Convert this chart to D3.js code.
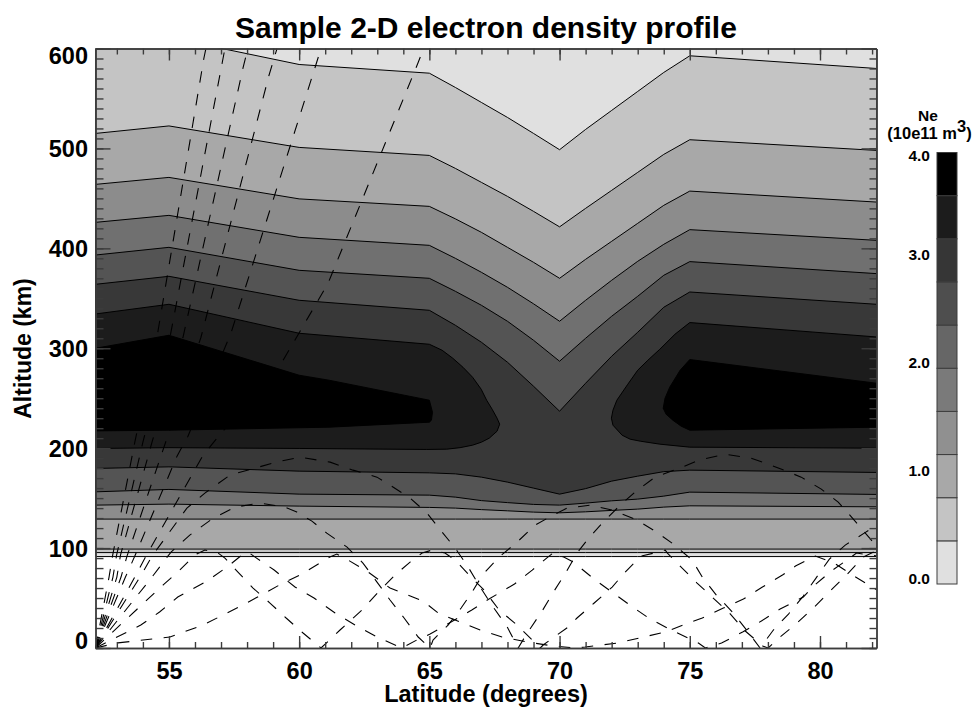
<!DOCTYPE html>
<html>
<head>
<meta charset="utf-8">
<script src="https://cdn.jsdelivr.net/npm/d3@7"></script>
<style>
    html, body { margin: 0; padding: 0; background: white; }
    text { font-family: "Liberation Sans", Arial, sans-serif; font-weight: bold; fill: black; }
</style>
</head>
<body>
<div id="wrapper"></div>
<script>
// contour altitudes (km), all at these latitudes
const contourLats = [52.18, 55, 60, 65, 66, 67, 68, 69, 70, 71, 72, 73, 74, 75, 82.17]
const upper1 = [603, 611, 584, 575.3, 561, 546, 531, 515, 498.7, 519, 538, 557, 576, 592.7, 580]
const upper2 = [515, 522.5, 501, 493, 480, 466, 452, 437, 421.5, 440, 458, 476, 494, 508.7, 498]
const upper3 = [464, 471, 449.5, 442, 429.5, 416, 401, 386, 370, 389, 407, 425, 443, 457.3, 446.3]
const upper4 = [426, 433, 411, 403, 390, 376, 361, 344.5, 327, 348, 368, 387, 404, 418.7, 408]
const upper5 = [393.3, 401, 378, 370, 357, 343, 327, 308, 287, 310, 332, 352, 373, 386.7, 374.7]
const upper6 = [364, 372, 348, 338, 323, 306, 286, 262, 237, 265, 292, 316, 341, 356.3, 344]
const lower6 = [179.7, 181.3, 177, 175.3, 174.3, 171, 166, 160, 154, 159.5, 167, 172, 176.5, 178, 175.7]
const lower5 = [156.3, 158.7, 154, 153, 151, 147.5, 145.5, 143.7, 143, 145, 147.3, 149, 152, 156, 153.7]
const lower4 = [143, 144, 142, 140.7, 140, 138.5, 137.3, 136, 135.3, 136.3, 137.7, 139, 141, 142.3, 141.3]
const lower3 = [129, 129, 129, 129, 129, 129, 129, 129, 129, 129, 129, 129, 129, 129, 129]
const lower2 = [99, 99, 99, 99, 99, 99, 99, 99, 99, 99, 99, 99, 99, 99, 99]
const lower1 = [95.5, 95.5, 95.5, 95.5, 95.5, 95.5, 95.5, 95.5, 95.5, 95.5, 95.5, 95.5, 95.5, 95.5, 95.5]
const lower0 = [91.5, 91.5, 91.5, 91.5, 91.5, 91.5, 91.5, 91.5, 91.5, 91.5, 91.5, 91.5, 91.5, 91.5, 91.5]
const ceiling = [620, 620, 620, 620, 620, 620, 620, 620, 620, 620, 620, 620, 620, 620, 620]

// closed loops around the two density maxima, [lat, alt]
const loop7Left = [[52.18, 334.3], [55, 344], [60, 315], [65, 304], [65.49, 298], [65.9, 290], [66.29, 281], [66.66, 271], [66.99, 259], [67.2, 248], [67.41, 239], [67.6, 230], [67.7, 224], [67.6, 217], [67.3, 210], [67, 206], [66.66, 203], [66.18, 200.5], [65.67, 199], [64.9, 198.7], [60, 199.7], [55, 200.5], [52.18, 199.7]]
const loop7Right = [[82.17, 311.3], [75, 325.7], [74.43, 314], [73.85, 299], [73.39, 288], [73, 278], [72.62, 264], [72.2, 248], [72.05, 238], [71.99, 230], [72.05, 223], [72.4, 213], [72.71, 209], [73.1, 207], [73.85, 204], [75, 201], [82.17, 200]]
const loop8Left = [[52.18, 300], [55, 313], [60, 273], [61.15, 268], [65, 248], [65.12, 236], [65.08, 228], [65, 226], [61.15, 221], [55, 218], [52.18, 217.3]]
const loop8Right = [[75, 288.7], [82.17, 265], [82.17, 221], [75, 218], [74.67, 222], [74.35, 228], [74.09, 234], [73.98, 240], [74.05, 250], [74.23, 261], [74.63, 278]]

// ray paths, [lat, alt]
const rayA = [[52.18, 0], [52.7, 71], [52.84, 93], [53.69, 206], [54.54, 311], [56.34, 590], [56.42, 600]]
const rayB = [[52.18, 0], [52.85, 71], [52.99, 93], [54, 206], [55.04, 311], [57.04, 585], [57.15, 600]]
const rayC = [[52.18, 0], [53, 71], [53.14, 93], [54.35, 206], [55.54, 311], [57.84, 580], [58.03, 600]]
const rayD = [[52.18, 0], [53.16, 71], [53.39, 92], [54.77, 198], [56.23, 311], [58.84, 573], [59.15, 600]]
const rayE = [[52.18, 0], [53.33, 71], [53.69, 92], [55.31, 192], [55.73, 212], [57.38, 315], [60.61, 581], [60.84, 600]]
const rayF = [[52.18, 0], [53.69, 71], [54.12, 92], [56.31, 193], [56.88, 211], [59.34, 286], [61.11, 365], [64.57, 586], [64.78, 600]]
const rayH = [[52.18, 0], [53.89, 71], [54.35, 92], [55.69, 140], [56.38, 155], [57.34, 173], [58.3, 180], [59.11, 186], [60.03, 191], [61.19, 186], [62.07, 178], [62.99, 171], [63.49, 163], [64.26, 150], [64.91, 135], [65.49, 116], [65.99, 100], [66.49, 81], [66.95, 61], [67.45, 41], [67.99, 21], [68.41, 0],
    [68.76, 15], [69.33, 37], [69.79, 57], [70.25, 76], [70.67, 95], [71.09, 109], [71.67, 126], [72.33, 143], [72.94, 157], [73.67, 171], [74.51, 179], [75.36, 188], [76.36, 194], [77.36, 190], [78.32, 181], [79.28, 171], [80.05, 159], [80.7, 146], [81.28, 129], [81.94, 109], [82.2, 101]]
const rayG = [[52.18, 0], [54.35, 71], [54.96, 92], [55.08, 96], [55.8, 113], [56.65, 129], [57.54, 141], [58.5, 145], [59.45, 141], [59.91, 136], [60.49, 127], [61.06, 115], [61.84, 101], [62.45, 85], [62.99, 66], [63.49, 48], [64.03, 30], [64.57, 11], [65.03, 0],
    [65.14, 8], [65.72, 23], [66.22, 40], [66.64, 56], [67.06, 74], [67.72, 92], [68.37, 106], [69.06, 123], [69.75, 133], [70.29, 140], [71.17, 143], [72.02, 138], [72.9, 129], [73.67, 117], [74.32, 105], [75.09, 88], [75.48, 71], [76.02, 53], [76.67, 35], [77.24, 16], [77.7, 0],
    [78.21, 18], [78.79, 34], [79.36, 52], [79.82, 69], [80.36, 89], [80.97, 103], [81.7, 115], [82.2, 123]]
const rayI = [[52.18, 0], [54.77, 63], [55.34, 76], [55.8, 88], [56.07, 94], [56.38, 98], [56.84, 96], [57.15, 90], [57.65, 76], [58.23, 60], [58.88, 45], [59.5, 30], [60.15, 15], [60.84, 0],
    [61.57, 18], [62.41, 38], [63.11, 58], [63.72, 74], [64.26, 86], [64.72, 95], [65.1, 98], [65.6, 95], [65.99, 88], [66.64, 70], [67.1, 58], [67.68, 38], [68.37, 23], [68.95, 8], [69.26, 0],
    [69.37, 3], [70.33, 21], [70.67, 30], [71.33, 45], [72.02, 61], [72.52, 76], [73.13, 92], [73.79, 96], [74.06, 98], [74.14, 95], [74.63, 82], [75.28, 65], [75.9, 50], [76.52, 35], [77.13, 17], [77.8, 2], [78.01, 0],
    [78.47, 11], [79.12, 25], [79.78, 41], [80.43, 58], [81.05, 74], [81.66, 91], [82.2, 98]]
const rayJ = [[52.18, 0], [53.92, 23], [54.64, 36], [55.34, 51], [56.46, 67], [57.23, 81], [57.8, 93], [58.04, 96], [58.31, 91], [59.04, 78], [59.84, 61], [60.57, 50], [61.38, 35], [62.15, 23], [63, 11], [63.76, 2], [63.95, 0],
    [64.52, 8], [65.03, 14], [66.63, 38], [67.29, 49], [68.27, 64], [68.95, 78], [69.55, 91], [69.75, 95], [70.16, 91], [70.53, 86], [71.37, 68], [72.06, 55], [72.75, 42], [73.48, 29], [74.29, 18], [75.33, 5], [75.6, 0],
    [76.22, 5], [77.03, 16], [77.75, 27], [78.47, 39], [79.36, 51], [79.71, 61], [80.43, 77], [81.09, 89], [81.4, 95], [82.2, 92]]
const rayK = [[52.18, 0], [53, 5], [55.04, 11], [56.31, 23], [57.84, 43], [59.38, 65], [60.03, 73], [61.18, 91], [61.45, 94], [61.88, 88], [62.65, 76], [63.49, 60], [64.76, 47], [65.34, 35], [66.18, 26], [66.95, 18], [67.79, 11], [68.76, 6], [69.76, 2], [70.6, 0],
    [70.98, 1], [72.22, 5], [73.06, 10], [74.06, 16], [74.75, 23], [75.48, 30], [76.29, 40], [77.06, 49], [77.79, 61], [78.56, 73], [79.06, 82], [79.82, 92], [80.55, 85], [81.24, 73], [82, 61], [82.2, 58]]
const rays = [rayA, rayB, rayC, rayD, rayE, rayF, rayH, rayG, rayI, rayJ, rayK]

// axis ticks
const latMajor = [55, 60, 65, 70, 75, 80]
const latMinor = d3.range(53, 83)
const altMajor = [0, 100, 200, 300, 400, 500, 600]
const altMinor = d3.range(0, 610, 10)

// colour bar
const barLevels = [0, 0.4, 0.8, 1.2, 1.6, 2, 2.4, 2.8, 3.2, 3.6, 4]
const barGreys = ["#e0e0e0", "#c4c4c4", "#a8a8a8", "#909090", "#7a7a7a", "#666666", "#4e4e4e", "#363636", "#1c1c1c", "#000000"]
const barTicks = [0, 1, 2, 3, 4]

async function drawContours() {
    const dimensions = {
        width: 974,
        height: 707,
        left: 95.5,
        right: 876.5,
        top: 48.5,
        bottom: 648,
    }

    const wrapper = d3.select("#wrapper")
        .append("svg")
        .attr("width", dimensions.width)
        .attr("height", dimensions.height)
        .style("display", "block")

    const xScale = d3.scaleLinear()
        .domain([52.18, 82.17])
        .range([dimensions.left, dimensions.right])

    const yScale = d3.scaleLinear()
        .domain([0, 600])
        .range([dimensions.bottom, dimensions.top])

    const lineGenerator = d3.line()
        .x(d => xScale(d[0]))
        .y(d => yScale(d[1]))

    const withLats = alts => alts.map((alt, i) => [contourLats[i], alt])

    wrapper.append("clipPath")
        .attr("id", "plotClip")
        .append("rect")
        .attr("x", dimensions.left)
        .attr("y", dimensions.top)
        .attr("width", dimensions.right - dimensions.left)
        .attr("height", dimensions.bottom - dimensions.top)

    const plot = wrapper.append("g")
        .attr("clip-path", "url(#plotClip)")

    // Nested bands, lightest first, each one from its top contour round to its bottom contour
    const bands = [
        { upper: ceiling, lower: lower0, grey: "#e0e0e0" },
        { upper: upper1, lower: lower1, grey: "#c4c4c4" },
        { upper: upper2, lower: lower2, grey: "#a8a8a8" },
        { upper: upper3, lower: lower3, grey: "#8c8c8c" },
        { upper: upper4, lower: lower4, grey: "#707070" },
        { upper: upper5, lower: lower5, grey: "#545454" },
        { upper: upper6, lower: lower6, grey: "#383838" },
    ]
    bands.forEach(band => {
        const outline = withLats(band.upper).concat(withLats(band.lower).reverse())
        plot.append("path")
            .attr("d", lineGenerator(outline) + "Z")
            .attr("fill", band.grey)
            .attr("stroke", "black")
            .attr("stroke-width", 1)
    })

    const loops = [
        { points: loop7Left, grey: "#1c1c1c" },
        { points: loop7Right, grey: "#1c1c1c" },
        { points: loop8Left, grey: "#000000" },
        { points: loop8Right, grey: "#000000" },
    ]
    loops.forEach(loop => {
        plot.append("path")
            .attr("d", lineGenerator(loop.points) + "Z")
            .attr("fill", loop.grey)
            .attr("stroke", "black")
            .attr("stroke-width", 1)
    })

    plot.selectAll(".ray")
        .data(rays)
        .join("path")
        .attr("class", "ray")
        .attr("d", lineGenerator)
        .attr("fill", "none")
        .attr("stroke", "black")
        .attr("stroke-width", 1.1)
        .attr("stroke-dasharray", "11.5,11.5")

    // Axes: a major and a minor set on each of the four sides
    const drawAxis = (axis, scale, shift, values, size, format) => {
        const axisGroup = wrapper.append("g")
            .attr("transform", shift)
            .call(axis(scale).tickValues(values).tickSize(size).tickSizeOuter(0).tickFormat(format))
        axisGroup.selectAll("line, path")
            .attr("stroke", "#3c3c3c")
            .attr("stroke-width", 1.4)
        return axisGroup
    }
    const noLabel = () => ""
    const atBottom = `translate(0,${dimensions.bottom})`
    const atTop = `translate(0,${dimensions.top})`
    const atLeft = `translate(${dimensions.left},0)`
    const atRight = `translate(${dimensions.right},0)`

    drawAxis(d3.axisBottom, xScale, atBottom, latMinor, -6, noLabel)
    drawAxis(d3.axisTop, xScale, atTop, latMinor, -6, noLabel)
    drawAxis(d3.axisLeft, yScale, atLeft, altMinor, -8, noLabel)
    drawAxis(d3.axisRight, yScale, atRight, altMinor, -7, noLabel)
    drawAxis(d3.axisTop, xScale, atTop, latMajor, -12, noLabel)
    drawAxis(d3.axisRight, yScale, atRight, altMajor, -15, noLabel)

    const xAxis = drawAxis(d3.axisBottom, xScale, atBottom, latMajor, -12, d3.format("d"))
    xAxis.selectAll("text")
        .attr("y", 31)
        .attr("dy", 0)
        .style("font-size", "23.5px")

    const yAxis = drawAxis(d3.axisLeft, yScale, atLeft, altMajor, -15, d3.format("d"))
    yAxis.selectAll("text")
        .attr("x", -7.5)
        .attr("dy", d => d === 600 ? "0.62em" : d === 0 ? "0.04em" : "0.36em")
        .attr("text-anchor", "end")
        .style("font-size", "23.5px")

    wrapper.append("text")
        .attr("x", 486)
        .attr("y", 37.5)
        .attr("text-anchor", "middle")
        .style("font-size", "30px")
        .text("Sample 2-D electron density profile")

    wrapper.append("text")
        .attr("x", 486)
        .attr("y", 702)
        .attr("text-anchor", "middle")
        .style("font-size", "23.5px")
        .text("Latitude (degrees)")

    wrapper.append("text")
        .attr("transform", "translate(31,348.5) rotate(-90)")
        .attr("text-anchor", "middle")
        .style("font-size", "23px")
        .text("Altitude (km)")

    // Colour bar
    const barScale = d3.scaleLinear()
        .domain([0, 4])
        .range([584, 152.5])

    wrapper.selectAll(".barBand")
        .data(barGreys)
        .join("rect")
        .attr("class", "barBand")
        .attr("x", 937)
        .attr("width", 20)
        .attr("y", (d, i) => barScale(barLevels[i + 1]))
        .attr("height", (d, i) => barScale(barLevels[i]) - barScale(barLevels[i + 1]))
        .attr("fill", d => d)
        .attr("stroke", "#3c3c3c")
        .attr("stroke-width", 1)

    wrapper.selectAll(".barLabel")
        .data(barTicks)
        .join("text")
        .attr("class", "barLabel")
        .attr("x", 930)
        .attr("y", d => barScale(d) + (d === 4 ? 8 : 0))
        .attr("text-anchor", "end")
        .style("font-size", "15.5px")
        .text(d3.format(".1f"))

    wrapper.append("text")
        .attr("x", 928)
        .attr("y", 120.5)
        .attr("text-anchor", "middle")
        .style("font-size", "15.5px")
        .text("Ne")

    const barUnits = wrapper.append("text")
        .attr("x", 929.5)
        .attr("y", 139)
        .attr("text-anchor", "middle")
        .style("font-size", "16.5px")
    barUnits.append("tspan").text("(10e11 m")
    barUnits.append("tspan").attr("dy", -7).text("3")
    barUnits.append("tspan").attr("dy", 7).text(")")
}

drawContours()
</script>
</body>
</html>
